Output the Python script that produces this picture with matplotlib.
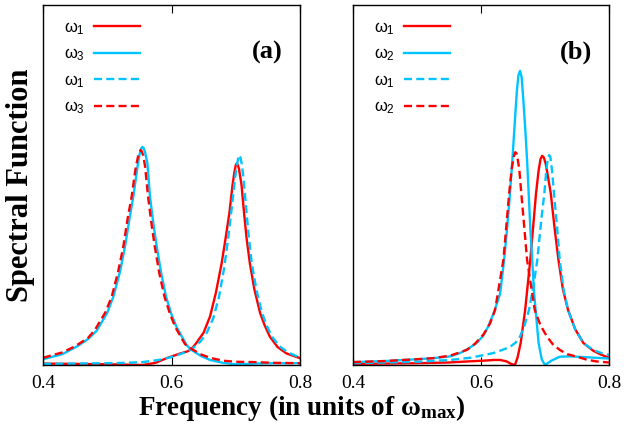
import matplotlib
matplotlib.use("Agg")
import matplotlib.pyplot as plt

plt.rcParams['font.family'] = ['Liberation Serif', 'DejaVu Serif']
plt.rcParams['mathtext.fontset'] = 'custom'
plt.rcParams['mathtext.rm'] = 'Liberation Sans'
plt.rcParams['mathtext.it'] = 'Liberation Sans'
plt.rcParams['mathtext.bf'] = 'Liberation Serif:bold'

RED = '#ff0000'
CYAN = '#00c4ff'

# ---- panel (a) ----
a_w1_x = [0.40, 0.45, 0.50, 0.53, 0.555, 0.575, 0.5925, 0.61, 0.625, 0.631, 0.639, 0.65, 0.66,
          0.669, 0.678, 0.684, 0.690, 0.695, 0.698, 0.700, 0.7015, 0.703, 0.705, 0.709, 0.713,
          0.717, 0.722, 0.729, 0.738, 0.745, 0.753, 0.765, 0.779, 0.80]
a_w1_y = [0.004, 0.003, 0.002, 0.001, 0.0, 0.006, 0.019, 0.030, 0.038, 0.044, 0.062, 0.09, 0.135,
          0.20, 0.282, 0.35, 0.421, 0.50, 0.537, 0.555, 0.560, 0.557, 0.545, 0.50, 0.421,
          0.35, 0.282, 0.21, 0.144, 0.11, 0.079, 0.05, 0.032, 0.019]

a_w3_x = [0.40, 0.43, 0.4525, 0.47, 0.4835, 0.50, 0.5095, 0.52, 0.5276, 0.535, 0.5406, 0.547,
          0.550, 0.5525, 0.5546, 0.5565, 0.559, 0.5625, 0.5665, 0.572, 0.577, 0.584, 0.5915,
          0.60, 0.608, 0.6236, 0.631, 0.645, 0.66, 0.68, 0.70, 0.73, 0.76, 0.80]
a_w3_y = [0.016, 0.03, 0.051, 0.072, 0.095, 0.145, 0.190, 0.26, 0.329, 0.41, 0.468, 0.55,
          0.583, 0.600, 0.606, 0.603, 0.590, 0.56, 0.468, 0.39, 0.329, 0.255, 0.190,
          0.14, 0.105, 0.055, 0.042, 0.026, 0.014, 0.006, 0.002, 0.004, 0.005, 0.005]

a_w1d_x = [0.40, 0.45, 0.50, 0.53, 0.555, 0.58, 0.60, 0.615, 0.631, 0.645, 0.655, 0.665, 0.674,
           0.682, 0.688, 0.694, 0.699, 0.702, 0.704, 0.7055, 0.707, 0.709, 0.712, 0.716, 0.72,
           0.725, 0.732, 0.741, 0.748, 0.756, 0.768, 0.782, 0.80]
a_w1d_y = [0.003, 0.004, 0.005, 0.006, 0.008, 0.014, 0.022, 0.031, 0.043, 0.065, 0.09, 0.13, 0.19,
           0.27, 0.35, 0.44, 0.52, 0.558, 0.576, 0.583, 0.578, 0.562, 0.52, 0.44, 0.36,
           0.282, 0.21, 0.144, 0.11, 0.08, 0.052, 0.034, 0.021]

a_w3d_x = [0.40, 0.43, 0.45, 0.47, 0.481, 0.497, 0.507, 0.517, 0.525, 0.532, 0.538, 0.544, 0.548,
           0.5505, 0.552, 0.5535, 0.556, 0.559, 0.5635, 0.569, 0.574, 0.581, 0.589, 0.598, 0.606,
           0.621, 0.631, 0.645, 0.66, 0.68, 0.70, 0.73, 0.76, 0.80]
a_w3d_y = [0.020, 0.035, 0.052, 0.075, 0.098, 0.146, 0.190, 0.26, 0.329, 0.41, 0.468, 0.545, 0.58,
           0.593, 0.597, 0.594, 0.582, 0.55, 0.468, 0.39, 0.329, 0.255, 0.19, 0.14, 0.105,
           0.058, 0.045, 0.03, 0.02, 0.012, 0.009, 0.008, 0.006, 0.005]

# ---- panel (b) ----
b_w1_x = [0.40, 0.45, 0.50, 0.55, 0.58, 0.604, 0.62, 0.630, 0.64, 0.647, 0.653, 0.657, 0.662,
          0.669, 0.677, 0.686, 0.690, 0.693, 0.6955, 0.698, 0.701, 0.704, 0.709, 0.715, 0.721,
          0.728, 0.736, 0.747, 0.760, 0.775, 0.786, 0.80]
b_w1_y = [0.003, 0.004, 0.005, 0.007, 0.010, 0.012, 0.014, 0.014, 0.010, 0.003, 0.0, 0.02, 0.061,
          0.153, 0.292, 0.477, 0.54, 0.572, 0.581, 0.577, 0.56, 0.53, 0.477, 0.38, 0.292,
          0.21, 0.153, 0.10, 0.061, 0.04, 0.03, 0.02]

b_w2_x = [0.40, 0.45, 0.50, 0.525, 0.552, 0.567, 0.58, 0.593, 0.603, 0.611, 0.62, 0.630, 0.636,
          0.641, 0.645, 0.649, 0.653, 0.656, 0.6585, 0.661, 0.6635, 0.666, 0.669, 0.672, 0.677,
          0.683, 0.690, 0.695, 0.700, 0.71, 0.723, 0.74, 0.76, 0.78, 0.80]
b_w2_y = [0.008, 0.011, 0.016, 0.019, 0.024, 0.033, 0.045, 0.061, 0.08, 0.106, 0.145, 0.199, 0.29,
          0.384, 0.47, 0.569, 0.68, 0.76, 0.805, 0.817, 0.80, 0.74, 0.66, 0.569, 0.384,
          0.199, 0.061, 0.015, 0.0, 0.012, 0.023, 0.024, 0.022, 0.02, 0.018]

b_w1d_x = [0.40, 0.45, 0.50, 0.552, 0.583, 0.60, 0.619, 0.632, 0.645, 0.654, 0.661, 0.668, 0.675,
           0.682, 0.688, 0.694, 0.699, 0.702, 0.7045, 0.7065, 0.7085, 0.711, 0.714, 0.719, 0.723,
           0.729, 0.736, 0.747, 0.760, 0.775, 0.79, 0.80]
b_w1d_y = [0.005, 0.007, 0.009, 0.014, 0.02, 0.026, 0.033, 0.041, 0.05, 0.062, 0.079, 0.11, 0.153,
           0.22, 0.292, 0.40, 0.477, 0.54, 0.575, 0.583, 0.577, 0.54, 0.477, 0.38, 0.292,
           0.21, 0.153, 0.10, 0.061, 0.042, 0.032, 0.028]

b_w2d_x = [0.40, 0.45, 0.50, 0.525, 0.552, 0.578, 0.59, 0.604, 0.614, 0.622, 0.635, 0.644, 0.648,
           0.651, 0.6535, 0.6555, 0.658, 0.660, 0.663, 0.672, 0.684, 0.693, 0.703, 0.712, 0.723,
           0.735, 0.750, 0.765, 0.78, 0.80]
b_w2d_y = [0.008, 0.011, 0.016, 0.019, 0.026, 0.042, 0.058, 0.085, 0.115, 0.153, 0.292, 0.477, 0.545,
           0.578, 0.591, 0.588, 0.565, 0.54, 0.477, 0.292, 0.153, 0.11, 0.079, 0.058, 0.042,
           0.03, 0.023, 0.015, 0.01, 0.007]

xticks = [0.4, 0.6, 0.8]
xticklabels = ['0.4', '0.6', '0.8']

fig = plt.figure(figsize=(6.26, 4.24), dpi=100)
ax_a = fig.add_axes([43/626, 59/424, 257/626, 360/424])
ax_b = fig.add_axes([353/626, 59/424, 256/626, 360/424])

lw = 1.7
dash = (3.4, 1.8)

ax_a.plot(a_w1_x, a_w1_y, color=RED, lw=lw, label=r'$\omega_1$')
ax_a.plot(a_w3_x, a_w3_y, color=CYAN, lw=lw, label=r'$\omega_3$')
ax_a.plot(a_w1d_x, a_w1d_y, color=CYAN, lw=lw, dashes=dash, label=r'$\omega_1$')
ax_a.plot(a_w3d_x, a_w3d_y, color=RED, lw=lw, dashes=dash, label=r'$\omega_3$')

ax_b.plot(b_w1_x, b_w1_y, color=RED, lw=lw, label=r'$\omega_1$')
ax_b.plot(b_w2_x, b_w2_y, color=CYAN, lw=lw, label=r'$\omega_2$')
ax_b.plot(b_w1d_x, b_w1d_y, color=CYAN, lw=lw, dashes=dash, label=r'$\omega_1$')
ax_b.plot(b_w2d_x, b_w2d_y, color=RED, lw=lw, dashes=dash, label=r'$\omega_2$')

for ax, tag in [(ax_a, '(a)'), (ax_b, '(b)')]:
    ax.set_xlim(0.4, 0.8)
    ax.set_ylim(0, 1.0)
    ax.set_yticks([])
    ax.set_xticks(xticks)
    ax.set_xticklabels(xticklabels)
    ax.tick_params(axis='x', direction='in', length=6, width=0.8, top=True,
                   labelsize=14, pad=7)
    for s in ax.spines.values():
        s.set_linewidth(1.0)
    ax.text(0.873, 0.868, tag, transform=ax.transAxes, ha='center', va='center',
            fontsize=19, fontweight='bold')
    ax.legend(loc='upper left', bbox_to_anchor=(0.035, 0.99), frameon=False,
              markerfirst=False, fontsize=12, handlelength=2.75, handletextpad=0.55,
              labelspacing=0.58, borderaxespad=0.3)

ax_a.set_ylabel('Spectral Function', fontsize=22, fontweight='bold', labelpad=6)
fig.text(0.482, 0.022, r'Frequency (in units of $\mathbf{\omega_{max}}$)', ha='center',
         va='baseline', fontsize=19.5, fontweight='bold')

fig.savefig('out.png', dpi=100)
